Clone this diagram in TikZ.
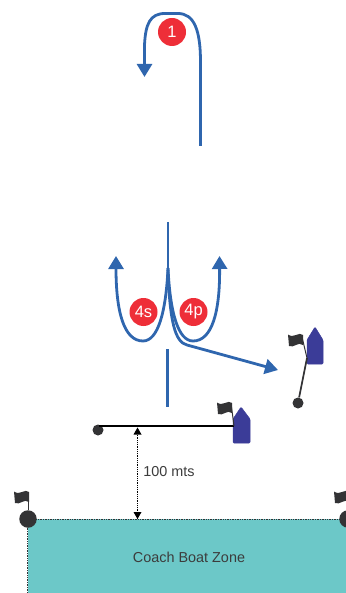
\documentclass[tikz,border=0pt]{standalone}
\usepackage{fontspec}
\setmainfont{Liberation Sans}
\usetikzlibrary{arrows.meta}
\definecolor{courseblue}{HTML}{2F66AE}
\definecolor{markred}{HTML}{EE2E38}
\definecolor{boatblue}{HTML}{3B3C98}
\definecolor{darkmark}{HTML}{333335}
\definecolor{zoneteal}{HTML}{6CC8C8}
\definecolor{labelgrey}{HTML}{3C3C3C}
\tikzset{
  x=1pt,y=-1pt,
  course/.style={draw=courseblue,line width=2.8pt,line cap=butt},
  coursearrow/.style={course,-{Triangle[length=13pt,width=15pt,fill=courseblue]}},
  redmark/.style={circle,fill=markred,text=white,minimum size=28pt,inner sep=0pt,font=\fontsize{16.5}{18}\selectfont},
  buoy/.style={circle,fill=darkmark,inner sep=0pt,minimum size=#1},
  boatshape/.style={fill=boatblue,draw=boatblue,line width=.5pt,rounded corners=1pt},
  flagshape/.style={fill=darkmark},
  flagpole/.style={draw=darkmark,line width=1pt},
  startline/.style={draw=black,line width=1.8pt},
  measure/.style={draw=black,line width=.8pt,densely dotted},
  zonebox/.style={fill=zoneteal,draw=darkmark,line width=.7pt,densely dotted},
  labeltext/.style={text=labelgrey,font=\fontsize{14.4}{16}\selectfont,inner sep=0pt}
}
\newcommand{\flagat}[2]{%
  \path[flagshape,shift={(#1,#2)}] (0,1) .. controls (-4,-3) and (-9,5) .. (-15,0.5)
    -- (-14,12) .. controls (-9,14.5) and (-5,7) .. (0,11) -- cycle;}
\begin{document}
\begin{tikzpicture}
\useasboundingbox (0,0) rectangle (345,593);
% zone
\path[zonebox] (27.5,519) rectangle (348,595);
\node[labeltext] (zone) at (189,557) {Coach Boat Zone};
% course 1
\coordinate (c1s) at (200.5,146);
\coordinate (c1e) at (144.5,77);
\draw[coursearrow] (c1s) -- (200.5,62) .. controls (200.5,30) and (194,13.5) .. (178,13.5)
  -- (165,13.5) .. controls (150,13.5) and (145.5,24) .. (144.5,45) -- (c1e);
\node[redmark] (m1) at (172,32) {1};
% course 4
\coordinate (c4t) at (168,222);
\coordinate (c4m) at (168,285);
\coordinate (c4l) at (116,256);
\coordinate (c4r) at (219.5,256);
\coordinate (c4a) at (278,370);
\coordinate (c4b) at (167.5,349);
\coordinate (c4c) at (167.5,407);
\draw[course] (c4t) -- (c4m);
\draw[coursearrow] (168,268) .. controls (166,312) and (158,341) .. (143,341)
  .. controls (124,341) and (116,312) .. (c4l);
\draw[coursearrow] (168,268) .. controls (170,312) and (178,341) .. (193,341)
  .. controls (212,341) and (220,312) .. (c4r);
\draw[coursearrow] (168,272) .. controls (170,322) and (175,342) .. (187,345) -- (c4a);
\draw[course] (c4b) -- (c4c);
\node[redmark] (m4s) at (143.5,312) {4s};
\node[redmark] (m4p) at (193.5,312) {4p};
% committee boat right
\path[boatshape] (315,327) -- (323,340) -- (323,364) -- (307,364) -- (307,340) -- cycle;
\node[buoy=11pt] (rb) at (298,403) {};
\coordinate (rbt) at (307,358);
\draw[darkmark,line width=1.7pt] (rb) -- (rbt);
\draw[flagpole] (rbt) -- (302,337);
\flagat{303}{334}
% start boat
\path[boatshape] (241,407) -- (250,419) -- (250,443) -- (233,443) -- (233,419) -- cycle;
\node[buoy=11pt] (sb) at (98,430) {};
\coordinate (sl) at (99,426);
\coordinate (sr) at (234,426);
\draw[startline] (sl) -- (sr);
\draw[flagpole] (sr) -- (231,403);
\flagat{232}{402}
% measure
\coordinate (ma) at (137.5,427.5);
\coordinate (mb) at (137.5,519);
\draw[measure] (ma) -- (mb);
\path[fill=black] (ma) -- ++(4,7) -- ++(-8,0) -- cycle;
\path[fill=black] (mb) -- ++(4,-7) -- ++(-8,0) -- cycle;
\node[labeltext] (dist) at (169,472) {100 mts};
% zone buoys
\node[buoy=17.5pt] (zl) at (28,519) {};
\node[buoy=17.5pt] (zr) at (348,519) {};
\coordinate (zlt) at (28,493);
\coordinate (zrt) at (348,493);
\draw[flagpole] (zl) -- (zlt);
\draw[flagpole] (zr) -- (zrt);
\flagat{29}{491}
\flagat{349}{491}
\end{tikzpicture}
\end{document}
